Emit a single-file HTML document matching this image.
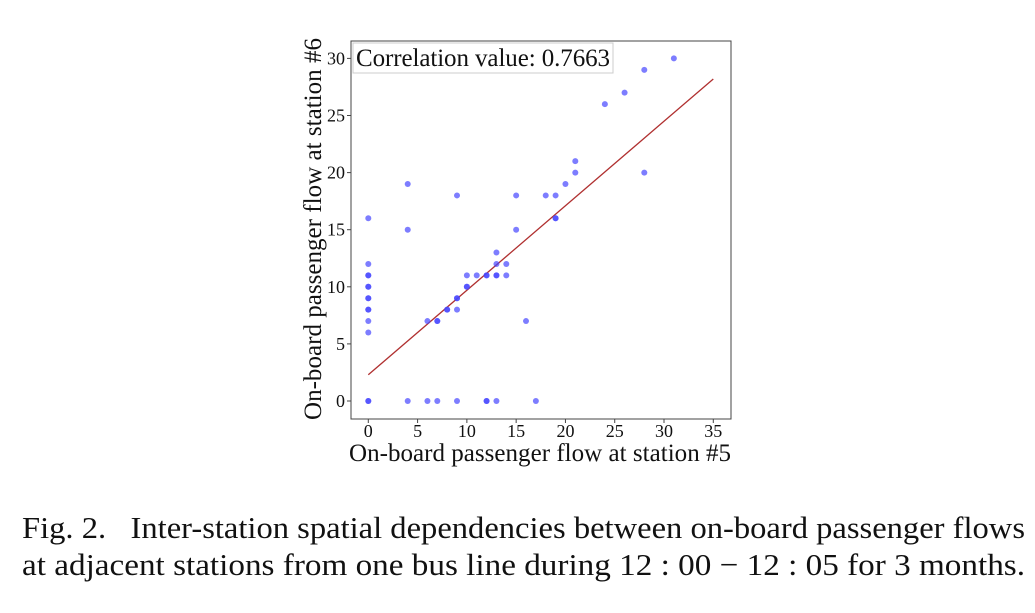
<!DOCTYPE html>
<html><head><meta charset="utf-8"><style>
body{margin:0;background:#fff;}
svg text{font-family:"Liberation Serif",serif;fill:#111;}
</style></head><body>
<svg width="1035" height="608" xmlns="http://www.w3.org/2000/svg" id="chart">
<rect x="351" y="41" width="380" height="378" fill="none" stroke="#444" stroke-width="1"/>
<g id="ticks"></g>
<line id="reg" stroke="#b03030" stroke-width="1.3"/>
<g id="pts"></g>
<rect x="353" y="43" width="260" height="30" fill="#fff" stroke="#ccc"/>
<text x="356" y="66" font-size="25" textLength="254">Correlation value: 0.7663</text>
<text x="349" y="461" font-size="25" textLength="382">On-board passenger flow at station #5</text>
<text transform="translate(321,420) rotate(-90)" font-size="25" textLength="382">On-board passenger flow at station #6</text>
<text x="22" y="538" font-size="31" textLength="1003" lengthAdjust="spacingAndGlyphs" xml:space="preserve">Fig. 2.   Inter-station spatial dependencies between on-board passenger flows</text>
<text x="22" y="575" font-size="31" textLength="1003" lengthAdjust="spacingAndGlyphs">at adjacent stations from one bus line during 12 : 00 − 12 : 05 for 3 months.</text>
</svg>
<script>
const xTicks=[0,5,10,15,20,25,30,35];
const yTicks=[0,5,10,15,20,25,30];
const xs=[0,4,4,9,15,15,18,19,20,21,21,24,26,28,31,28,19,19,
0,0,0,0,0,0,0,0,0,0,0,0,0,4,6,7,9,12,12,13,17,6,7,7,8,8,9,9,9,10,10,10,11,12,12,13,13,13,13,14,14,16];
const ys=[16,19,15,18,18,15,18,18,19,21,20,26,27,29,30,20,16,16,
12,11,11,10,10,9,9,8,8,7,6,0,0,0,0,0,0,0,0,0,0,7,7,7,8,8,8,9,9,10,10,11,11,11,11,11,11,12,13,12,11,7];
const regStart=[0,2.3], regEnd=[35,28.2];
const sx=v=>368.3+v*9.857, sy=v=>401-v*11.42;
const NS="http://www.w3.org/2000/svg";
const tg=document.getElementById('ticks');
xTicks.forEach(t=>{
 const l=document.createElementNS(NS,'line');l.setAttribute('x1',sx(t));l.setAttribute('x2',sx(t));l.setAttribute('y1',419);l.setAttribute('y2',423);l.setAttribute('stroke','#444');
 
 
 tg.appendChild(l);
 const tx=document.createElementNS(NS,'text');tx.setAttribute('x',sx(t));tx.setAttribute('y',437);tx.setAttribute('font-size','18');tx.setAttribute('text-anchor','middle');tx.textContent=t;
 
 
 tg.appendChild(tx);
});
yTicks.forEach(t=>{
 const l=document.createElementNS(NS,'line');l.setAttribute('x1',347);l.setAttribute('x2',351);l.setAttribute('y1',sy(t));l.setAttribute('y2',sy(t));l.setAttribute('stroke','#444');
 
 
 tg.appendChild(l);
 const tx=document.createElementNS(NS,'text');tx.setAttribute('x',345);tx.setAttribute('y',sy(t)+6);tx.setAttribute('font-size','18');tx.setAttribute('text-anchor','end');tx.textContent=t;
 
 
 tg.appendChild(tx);
});
const r=document.getElementById('reg');
r.setAttribute('x1',sx(regStart[0]));r.setAttribute('y1',sy(regStart[1]));r.setAttribute('x2',sx(regEnd[0]));r.setAttribute('y2',sy(regEnd[1]));
const pg=document.getElementById('pts');
xs.forEach((x,i)=>{
 const c=document.createElementNS(NS,'circle');c.setAttribute('cx',sx(x));c.setAttribute('cy',sy(ys[i]));c.setAttribute('r',3);c.setAttribute('fill','rgba(70,70,255,0.7)');
 
 
 pg.appendChild(c);
});
</script>
</body></html>
